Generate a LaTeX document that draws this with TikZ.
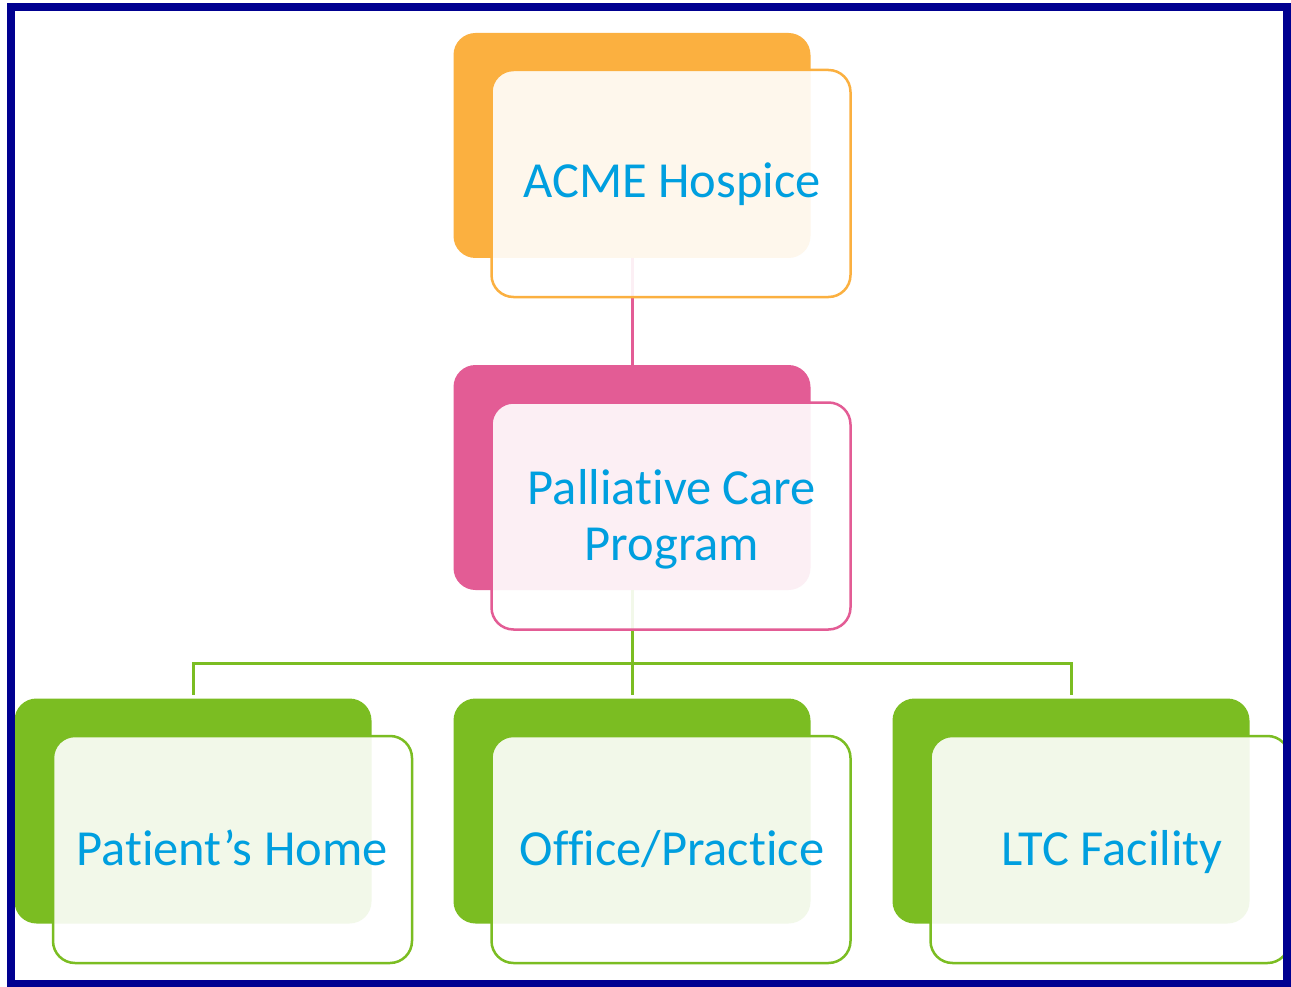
\documentclass[tikz,border=0pt]{standalone}
\usepackage{fontspec}
\setmainfont[Ligatures={NoCommon}]{Carlito}
\definecolor{cOrange}{HTML}{FBB040}
\definecolor{cPink}{HTML}{E35C95}
\definecolor{cGreen}{HTML}{7BBD22}
\definecolor{cText}{HTML}{009FDF}
\definecolor{cBorder}{HTML}{000090}
\begin{document}
\begin{tikzpicture}[x=1pt,y=1pt,
  backbox/.style={rectangle, rounded corners=22pt, minimum width=357pt, minimum height=225pt, inner sep=0pt, outer sep=0pt},
  frontbox/.style={rectangle, rounded corners=22pt, minimum width=359pt, minimum height=227pt, inner sep=0pt, outer sep=0pt, line width=2.5pt, fill=white, fill opacity=0.9},
  label/.style={font=\fontsize{50.5}{57}\selectfont, text=cText, anchor=base, inner sep=0pt, align=center},
  conn/.style={line width=3pt}]
\useasboundingbox (0,0) rectangle (1291,-987);
\fill[white] (0,0) rectangle (1291,-987);
% back boxes
\node[backbox, fill=cOrange] (b1) at (632,-145.5) {};
\node[backbox, fill=cPink] (b2) at (632,-477.5) {};
\node[backbox, fill=cGreen] (b3) at (193,-811) {};
\node[backbox, fill=cGreen] (b4) at (632,-811) {};
\node[backbox, fill=cGreen] (b5) at (1071,-811) {};
% connectors
\coordinate (bus) at (632,-663);
\draw[conn, cPink] (b1.south) -- (b2.north);
\draw[conn, cGreen] (b2.south) -- (bus);
\draw[conn, cGreen, shorten <=4pt] (b3.north) |- (bus);
\draw[conn, cGreen, shorten >=4pt] (bus) -| (b5.north);
\draw[conn, cGreen, shorten >=4pt] (bus) -- (b4.north);
% front boxes
\node[frontbox, draw=cOrange] (f1) at (671,-183.5) {};
\node[frontbox, draw=cPink] (f2) at (671,-516) {};
\node[frontbox, draw=cGreen] (f3) at (232.5,-849.5) {};
\node[frontbox, draw=cGreen] (f4) at (671,-849.5) {};
\node[frontbox, draw=cGreen] (f5) at (1110,-849.5) {};
% labels
\node[label] (t1) at (672,-198) {ACME Hospice};
\node[label] (t2a) at (672,-504) {Palliative Care};
\node[label] (t2b) at (672,-560) {Program};
\node[label] (t3) at (232,-865) {Patient’s Home};
\node[label] (t4) at (672,-865) {Office/Practice};
\node[label] (t5) at (1112,-865) {LTC Facility};
% border
\draw[cBorder, line width=8pt] (11,-7) rectangle (1287,-984);
\end{tikzpicture}
\end{document}
